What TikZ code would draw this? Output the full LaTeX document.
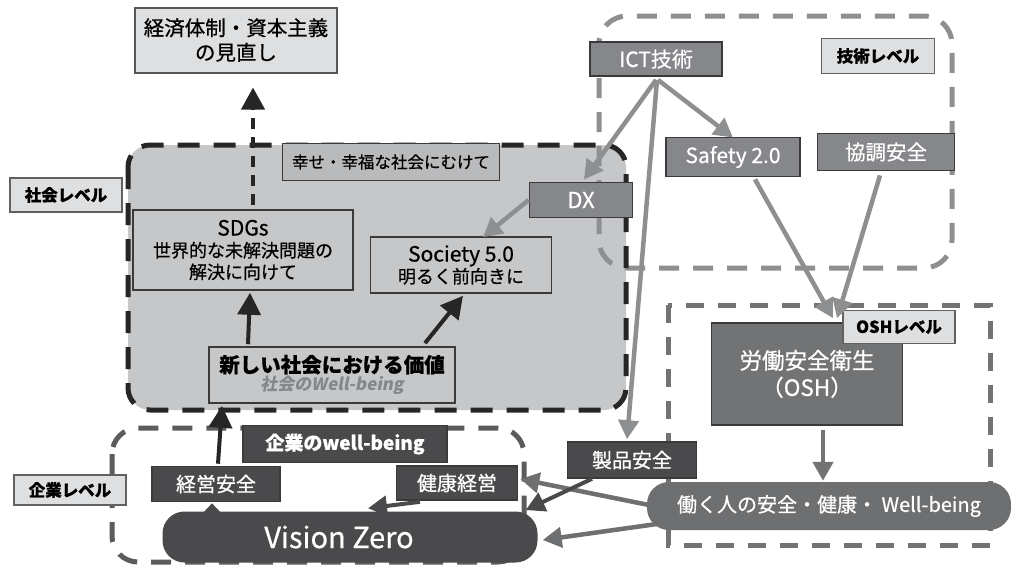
\documentclass[tikz,border=0pt]{standalone}
\usepackage{fontspec}
\setmainfont{Noto Sans CJK JP}[FakeBold=0.6]
\newfontfamily\jpsl{Noto Sans CJK JP}[FakeSlant=0.18]
\usetikzlibrary{arrows.meta,calc}
\definecolor{lightfill}{HTML}{DEDFE0}
\definecolor{socfill}{HTML}{C6C7C9}
\definecolor{hapfill}{HTML}{B9BABC}
\definecolor{midgray}{HTML}{86878A}
\definecolor{darkbox}{HTML}{4A4A4C}
\definecolor{pillgray}{HTML}{6E6F71}
\definecolor{oshgray}{HTML}{727375}
\definecolor{linegray}{HTML}{8E8F91}
\definecolor{edge}{HTML}{3A3A3A}
\tikzset{
  fs/.style={/utils/exec={\pgfmathsetmacro\myfs{#1*1.2}}, font=\fontsize{#1}{\myfs}\selectfont},
  lvl/.style={draw=edge!80, line width=1.8, fill=lightfill, font=\bfseries\fontsize{16.5}{19}\selectfont, inner sep=0, align=center},
  lightbox/.style={draw=edge, line width=1.6, fill=socfill, inner sep=0, align=center},
  midbox/.style={draw=edge, line width=1.8, fill=midgray, text=white, inner sep=0, align=center},
  darkbx/.style={draw=edge, line width=1.6, fill=darkbox, text=white, inner sep=0, align=center},
  blk/.style={draw=black!85, line width=4, -{Triangle[length=22,width=23]}},
  gry/.style={draw=linegray, line width=4.5, -{Triangle[length=19,width=20]}},
  drk/.style={draw=darkbox, line width=4, -{Triangle[length=19,width=20]}},
}
\begin{document}
\begin{tikzpicture}[x=1pt,y=-1pt]
\useasboundingbox (0,0) rectangle (1011,568);
% society level region
\fill[socfill, rounded corners=22] (128,145) rectangle (626,410);
% tech level region
\draw[linegray, line width=5, dash pattern=on 20 off 14, rounded corners=28] (599,16) rectangle (952,268);
% society dashed border
\draw[black!85, line width=5, dash pattern=on 22 off 14, rounded corners=22] (128,145) rectangle (626,410);
% OSH level region
\draw[oshgray, line width=5, dash pattern=on 18 off 14] (668,305) rectangle (990,545);
% company level region
\draw[darkbox!90, line width=5, dash pattern=on 20 off 14, rounded corners=26] (112,428) rectangle (524,562);

% nodes
\node[draw=edge!85, line width=2, fill=lightfill, minimum width=202, minimum height=65, inner sep=0, align=center, fs=20.5] (top) at (236,40) {経済体制・資本主義\\の見直し};
\node[lvl, minimum width=112, minimum height=34] (soclv) at (66,195) {社会レベル};
\node[lightbox, fill=hapfill, minimum width=217, minimum height=37, fs=16.5] (hap) at (391,162) {幸せ・幸福な社会にむけて};
\node[lightbox, minimum width=220, minimum height=80, fs=18, align=center] (sdgs) at (243,250) {\fontsize{21}{22}\selectfont SDGs\\世界的な未解決問題の\\解決に向けて};
\node[lightbox, minimum width=181, minimum height=56, fs=18] (soc5) at (461,265) {{\fontsize{21}{22}\selectfont Society 5.0}\\明るく前向きに};
\node[midbox, minimum width=103, minimum height=35, fs=22] (dx) at (581,200) {DX};
\node[lightbox, minimum width=246, minimum height=56] (new) at (332,375) {\bfseries\fontsize{20.5}{23}\selectfont 新しい社会における価値\\[1pt]{\jpsl\bfseries\color{midgray}\fontsize{17}{17}\selectfont 社会のWell-being}};
\node[midbox, minimum width=132, minimum height=34, fs=21] (ict) at (656,59) {ICT技術};
\node[lvl, minimum width=113, minimum height=35] (teclv) at (878,56) {技術レベル};
\node[midbox, minimum width=134, minimum height=39, fs=21] (saf) at (733,157) {Safety 2.0};
\node[midbox, minimum width=137, minimum height=37, fs=20.5] (kyo) at (886,152) {協調安全};
\node[darkbx, fill=oshgray, minimum width=191, minimum height=102, fs=22.5] (osh) at (807,374) {労働安全衛生\\（OSH）};
\node[lvl, minimum width=112, minimum height=33] (oshlv) at (899,327) {OSHレベル};
\node[fill=pillgray, rounded corners=22, minimum width=364, minimum height=48, text=white, inner sep=0, fs=20] (pill) at (829,506) {働く人の安全・健康・ Well-being};
\node[darkbx, minimum width=129, minimum height=36, fs=20] (seihin) at (632,460) {製品安全};
\node[lvl, minimum width=112, minimum height=30] (comlv) at (70,490) {企業レベル};
\node[darkbx, minimum width=204, minimum height=37, font=\bfseries\fontsize{19}{22}\selectfont] (cwb) at (345,444) {企業のwell-being};
\node[darkbx, minimum width=128, minimum height=35, fs=20] (keiei) at (216,484) {経営安全};
\node[darkbx, minimum width=121, minimum height=34, fs=20] (kenko) at (457,483) {健康経営};
\node[fill=darkbox, rounded corners=22, minimum width=375, minimum height=51, text=white, inner sep=0, fs=29] (vz) at (350,537) {\hspace*{-22pt}Vision Zero};

% connectors
\draw[blk, dash pattern=on 11 off 8] ($(sdgs.north)+(10,-4)$) -- ($(top.south)+(17,14)$);
\draw[blk] ($(new.north)+(-84,-2)$) -- ($(sdgs.south)+(7,2)$);
\draw[blk] ($(new.north)+(93,-3)$) -- ($(soc5.south)+(2,2)$);
\draw[blk] ($(keiei.north)+(2,-2)$) -- ($(new.south)+(-110,2)$);
\draw[draw=darkbox, line width=3, -{Triangle[length=11,width=20]}] ($(vz.north)+(-138,3)$) -- ($(keiei.south)+(-4,1)$);
\draw[drk] ($(kenko.south)+(-37,1)$) -- ($(vz.north)+(18,-3)$);
\draw[gry] (dx.west) -- ($(soc5.north)+(22,1)$);
\draw[gry] ($(ict.south)+(0,3)$) -- ($(dx.north)+(3,-2)$);
\draw[gry] ($(ict.south)+(2,3)$) -- ($(saf.north)+(0,1)$);
\draw[gry] ($(ict.south)+(1,3)$) -- ($(seihin.north)+(-5,-2)$);
\draw[gry] ($(saf.south)+(22,2)$) -- ($(osh.north)+(26,-4)$);
\draw[gry] ($(kyo.south)+(-6,4)$) -- ($(osh.north)+(30,-4)$);
\draw[gry, draw=oshgray] ($(osh.south)+(16,4)$) -- ($(pill.north)+(-6,-1)$);
\draw[gry, draw=pillgray] ($(pill.west)+(2,-1)$) -- ($(kenko.east)+(2,-4)$);
\draw[gry, draw=pillgray] ($(pill.west)+(10,18)$) -- ($(vz.east)+(5,3)$);
\draw[drk] ($(seihin.south)+(-40,0)$) -- ($(vz.east)+(-12,-27)$);
\end{tikzpicture}
\end{document}
